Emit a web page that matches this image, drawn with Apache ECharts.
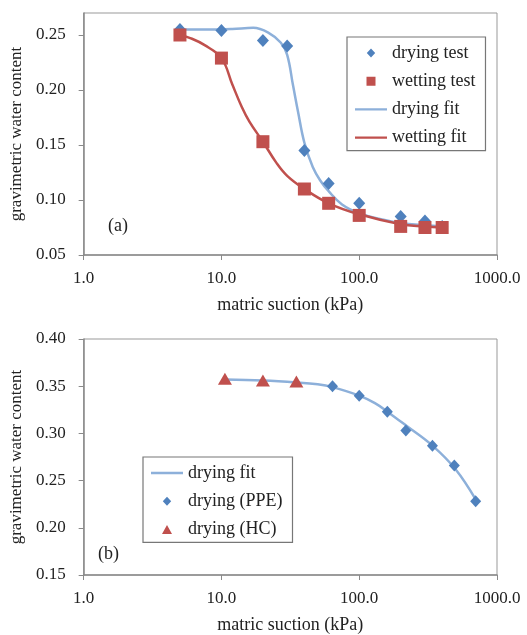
<!DOCTYPE html>
<html>
<head>
<meta charset="utf-8">
<script src="https://cdn.jsdelivr.net/npm/echarts@6/dist/echarts.min.js"></script>
<style>
  html, body { margin: 0; padding: 0; background: #fff; }
  #main { width: 527px; height: 635px; }
</style>
</head>
<body>
<div id="main"></div>
<script>
// (a) drying / wetting test points, suction in kPa
var dryTestA = [[5, 0.255], [10, 0.254], [20, 0.245], [30, 0.240], [40, 0.145],
    [60, 0.115], [100, 0.097], [200, 0.085], [300, 0.081], [400, 0.076]];
var wetTestA = [[5, 0.250], [10, 0.229], [20, 0.153], [40, 0.110], [60, 0.097],
    [100, 0.086], [200, 0.076], [300, 0.075], [400, 0.075]];
// fitted curves
var dryFitA = [[5, 0.255], [8, 0.255], [12, 0.2555], [17, 0.2565], [22, 0.252],
    [27, 0.243], [30, 0.232], [33, 0.205], [36, 0.180], [40, 0.152], [46, 0.130],
    [52, 0.118], [60, 0.108], [75, 0.096], [100, 0.088], [150, 0.082],
    [200, 0.079], [300, 0.077], [400, 0.076]];
var wetFitA = [[5, 0.250], [6, 0.247], [7.5, 0.241], [10, 0.229], [12, 0.205],
    [14, 0.185], [16, 0.171], [20, 0.153], [25, 0.134], [30, 0.122], [40, 0.110],
    [60, 0.097], [100, 0.087], [200, 0.078], [300, 0.076], [400, 0.075]];

// (b) drying points from two methods
var dryPPE = [[64, 0.350], [100, 0.340], [160, 0.323], [218, 0.303], [340, 0.287],
    [490, 0.266], [700, 0.228]];
var dryHC = [[10.6, 0.358], [20, 0.356], [35, 0.355]];
var dryFitB = [[10.6, 0.357], [20, 0.356], [35, 0.354], [50, 0.352], [64, 0.349],
    [100, 0.340], [130, 0.332], [160, 0.323], [220, 0.308], [340, 0.287],
    [500, 0.262], [700, 0.230]];

var xTicks = [1, 10, 100, 1000];

var font = 'Liberation Serif';
var txt = '#222';
var axisGray = '#8a8a8a';
var blue = '#4F81BD';
var lightBlue = '#8DB0DA';
var red = '#C0504D';

// legend icons drawn in a 32x10 box; the tiny corner specks pin the box size
// so the marker keeps its own shape instead of being stretched
var box = 'M0,0 L0.01,0 L0,0.01 Z M32,10 L31.99,10 L32,9.99 Z ';
var lineIcon = 'path://M0,3.8 H32 V6.2 H0 Z ' + box;
var diamondIcon = 'path://' + box + 'M16,0.5 L20.2,5 L16,9.5 L11.8,5 Z';
var rectIcon = 'path://' + box + 'M11.5,0.5 H20.5 V9.5 H11.5 Z';
var triIcon = 'path://' + box + 'M16,0.5 L21,9.5 L11,9.5 Z';

var chart = echarts.init(document.getElementById('main'));

function xAx(idx) {
    return {
        type: 'log', logBase: 10, min: xTicks[0], max: xTicks[xTicks.length - 1],
        gridIndex: idx,
        name: 'matric suction (kPa)', nameLocation: 'middle', nameGap: 41,
        nameTextStyle: { fontFamily: font, fontSize: 18, color: txt },
        axisLine: { lineStyle: { color: axisGray, width: 1.5 } },
        axisTick: { inside: false, length: 5, lineStyle: { color: axisGray } },
        axisLabel: {
            fontFamily: font, fontSize: 17, color: txt, margin: 15,
            formatter: function (v) { return Number(v).toFixed(1); }
        },
        minorTick: { show: false },
        splitLine: { show: false }
    };
}

function yAx(idx, min, max) {
    return {
        type: 'value', gridIndex: idx, min: min, max: max, interval: 0.05,
        name: 'gravimetric water content', nameLocation: 'middle', nameGap: 52,
        nameTextStyle: { fontFamily: font, fontSize: 17, color: txt },
        axisLine: { show: true, lineStyle: { color: axisGray, width: 1.5 } },
        axisTick: { show: true, length: 5, lineStyle: { color: axisGray } },
        axisLabel: {
            fontFamily: font, fontSize: 17, color: txt, margin: 18, showMaxLabel: max > 0.3,
            formatter: function (v) { return v.toFixed(2); }
        },
        splitLine: { show: false }
    };
}

var legendBase = {
    orient: 'vertical',
    backgroundColor: '#fff',
    borderColor: '#777',
    borderWidth: 1.2,
    borderRadius: 0,
    itemWidth: 32,
    itemHeight: 10,
    itemGap: 10.2,
    itemTextGap: 1,
    itemStyle: { opacity: 1 },
    textStyle: { fontFamily: font, fontSize: 18, color: txt }
};

var option = {
    animation: false,
    backgroundColor: '#fff',
    grid: [
        { left: 80, right: 30, top: 13, height: 242, show: true, borderColor: '#999', borderWidth: 1 },
        { left: 80, right: 30, top: 339, height: 243, show: true, borderColor: '#999', borderWidth: 1 }
    ],
    xAxis: [xAx(0), xAx(1)],
    yAxis: [yAx(0, 0.05, 0.27), yAx(1, 0.15, 0.40)],
    legend: [
        Object.assign({}, legendBase, {
            left: 347, top: 37, padding: [7, 10, 4, 8],
            data: [
                { name: 'drying test', icon: diamondIcon },
                { name: 'wetting test', icon: rectIcon },
                { name: 'drying fit', icon: lineIcon },
                { name: 'wetting fit', icon: lineIcon }
            ]
        }),
        Object.assign({}, legendBase, {
            left: 143, top: 457, padding: [7, 10, 4, 8],
            data: [
                { name: 'drying fit', icon: lineIcon },
                { name: 'drying (PPE)', icon: diamondIcon },
                { name: 'drying (HC)', icon: triIcon }
            ]
        })
    ],
    graphic: [
        { type: 'text', left: 108, top: 217, style: { text: '(a)', font: '18px "Liberation Serif"', fill: txt } },
        { type: 'text', left: 98, top: 545, style: { text: '(b)', font: '18px "Liberation Serif"', fill: txt } }
    ],
    series: [
        { name: 'drying fit', type: 'line', xAxisIndex: 0, yAxisIndex: 0, data: dryFitA,
          smooth: 0.4, symbol: 'none', lineStyle: { color: lightBlue, width: 2.5 }, itemStyle: { color: lightBlue }, z: 2 },
        { name: 'wetting fit', type: 'line', xAxisIndex: 0, yAxisIndex: 0, data: wetFitA,
          smooth: 0.4, symbol: 'none', lineStyle: { color: red, width: 2.5 }, itemStyle: { color: red }, z: 2 },
        { name: 'drying test', type: 'scatter', xAxisIndex: 0, yAxisIndex: 0, data: dryTestA,
          symbol: 'diamond', symbolSize: [12, 13], itemStyle: { color: blue, opacity: 1 }, z: 3 },
        { name: 'wetting test', type: 'scatter', xAxisIndex: 0, yAxisIndex: 0, data: wetTestA,
          symbol: 'rect', symbolSize: 13, itemStyle: { color: red, opacity: 1 }, z: 4 },

        { name: 'drying fit', type: 'line', xAxisIndex: 1, yAxisIndex: 1, data: dryFitB,
          smooth: 0.4, symbol: 'none', lineStyle: { color: lightBlue, width: 2.5 }, itemStyle: { color: lightBlue }, z: 2 },
        { name: 'drying (PPE)', type: 'scatter', xAxisIndex: 1, yAxisIndex: 1, data: dryPPE,
          symbol: 'diamond', symbolSize: [11, 12], itemStyle: { color: blue, opacity: 1 }, z: 3 },
        { name: 'drying (HC)', type: 'scatter', xAxisIndex: 1, yAxisIndex: 1, data: dryHC,
          symbol: 'triangle', symbolSize: [14, 12], itemStyle: { color: red, opacity: 1 }, z: 3 }
    ]
};

chart.setOption(option);
</script>
</body>
</html>
